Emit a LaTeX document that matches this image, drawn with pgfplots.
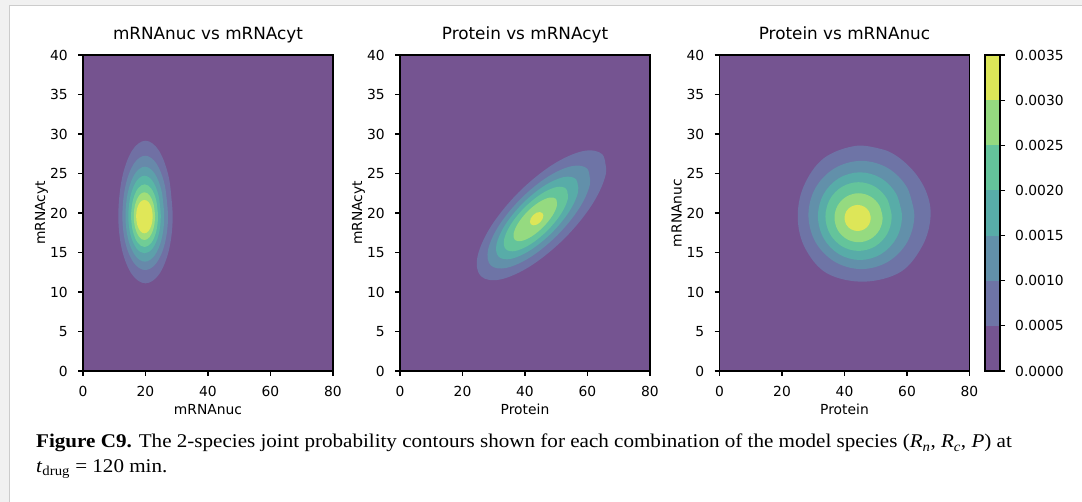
\documentclass[border=0pt]{standalone}
\usepackage{fontspec}
\usepackage{pgfplots}
\pgfplotsset{compat=1.18}
\setmainfont{DejaVu Sans}
\newfontfamily\capfont[FakeStretch=1.085]{Liberation Serif}

\definecolor{pagebg}{RGB}{241,241,241}
\definecolor{pageborder}{RGB}{204,204,204}
% 7-interval palette (viridis, alpha 0.75 on white)
\definecolor{c0}{RGB}{117,84,145}
\definecolor{c1}{RGB}{110,116,166}
\definecolor{c2}{RGB}{98,144,170}
\definecolor{c3}{RGB}{88,172,168}
\definecolor{c4}{RGB}{100,196,155}
\definecolor{c5}{RGB}{149,218,128}
\definecolor{c6}{RGB}{221,230,88}
% 8-interval palette
\definecolor{d0}{RGB}{117,83,143}
\definecolor{d1}{RGB}{112,112,164}
\definecolor{d2}{RGB}{103,137,170}
\definecolor{d3}{RGB}{93,160,170}
\definecolor{d4}{RGB}{89,183,165}
\definecolor{d5}{RGB}{112,205,150}
\definecolor{d6}{RGB}{161,222,121}
\definecolor{d7}{RGB}{224,231,88}

\pgfplotsset{
  cstyle/.style={
    scale only axis, width=250bp, height=316bp,
    xmin=0,xmax=80,ymin=0,ymax=40,
    xtick={0,20,40,60,80}, ytick={0,5,...,40},
    tick align=outside, tick pos=left, major tick length=5bp,
    axis line style={line width=1.1bp, black},
    every tick/.style={line width=1.1bp, black},
    axis on top,
    /pgf/number format/assume math mode=true,
    tick label style={font=\fontsize{13.9}{16}\selectfont},
    xticklabel style={anchor=north, inner sep=0pt, yshift=-10bp},
    yticklabel style={anchor=east, inner sep=0pt, xshift=-10bp},
    label style={font=\fontsize{13.9}{16}\selectfont},
    title style={font=\fontsize{16.9}{19}\selectfont, at={(axis description cs:0.5,1.030)}, anchor=base, inner sep=0pt},
    xlabel style={at={(axis description cs:0.5,-0.139)}, anchor=base, inner sep=0pt},
    ylabel style={at={(axis description cs:-0.152,0.5)}, anchor=base, inner sep=0pt},
  },
  band/.style={fill=#1, draw=none, smooth, tension=0.6},
}

\begin{document}
\begin{tikzpicture}
\path[use as bounding box] (0,0) rectangle (1082bp,502bp);
\fill[pagebg] (0,0) rectangle (1082bp,502bp);
\filldraw[fill=white, draw=pageborder, line width=1.6bp] (9.5bp,-20bp) rectangle (1110bp,496.5bp);

% ---------- Plot 1 ----------
\begin{axis}[cstyle, at={(83bp,131bp)}, anchor=south west,
  axis background/.style={fill=d0},
  title={mRNAnuc vs mRNAcyt}, xlabel={mRNAnuc}, ylabel={mRNAcyt}]
\addplot[band=d1] coordinates {(28.7,19.6) (27.53,24.38) (24.35,27.87) (20,29.15) (15.65,27.87) (12.47,24.38) (11.3,19.6) (12.47,15.35) (15.65,12.24) (20,11.1) (24.35,12.24) (27.53,15.35) (28.7,19.6) (27.53,24.38)};
\addplot[band=d2] coordinates {(27.2,19.6) (26.22,23.43) (23.55,26.23) (19.9,27.25) (16.25,26.23) (13.58,23.43) (12.6,19.6) (13.58,16.19) (16.25,13.69) (19.9,12.78) (23.55,13.69) (26.22,16.19) (27.2,19.6) (26.22,23.43)};
\addplot[band=d3] coordinates {(26.0,19.6) (25.17,22.73) (22.9,25.02) (19.8,25.86) (16.7,25.02) (14.43,22.73) (13.6,19.6) (14.43,16.72) (16.7,14.61) (19.8,13.84) (22.9,14.61) (25.17,16.72) (26.0,19.6) (25.17,22.73)};
\addplot[band=d4] coordinates {(24.9,19.6) (24.2,22.16) (22.3,24.03) (19.7,24.72) (17.1,24.03) (15.2,22.16) (14.5,19.6) (15.2,17.25) (17.1,15.53) (19.7,14.9) (22.3,15.53) (24.2,17.25) (24.9,19.6) (24.2,22.16)};
\addplot[band=d5] coordinates {(24.0,19.6) (23.42,21.62) (21.85,23.09) (19.7,23.63) (17.55,23.09) (15.98,21.62) (15.4,19.6) (15.98,17.65) (17.55,16.22) (19.7,15.7) (21.85,16.22) (23.42,17.65) (24.0,19.6) (23.42,21.62)};
\addplot[band=d6] coordinates {(23.05,19.6) (22.59,21.11) (21.35,22.22) (19.65,22.62) (17.95,22.22) (16.71,21.11) (16.25,19.6) (16.71,18.09) (17.95,16.98) (19.65,16.58) (21.35,16.98) (22.59,18.09) (23.05,19.6) (22.59,21.11)};
\addplot[band=d7] coordinates {(22.3,19.6) (21.94,20.63) (20.98,21.38) (19.65,21.65) (18.32,21.38) (17.36,20.63) (17.0,19.6) (17.36,18.51) (18.32,17.72) (19.65,17.43) (20.98,17.72) (21.94,18.51) (22.3,19.6) (21.94,20.63)};
\end{axis}

% ---------- Plot 2 ----------
\begin{axis}[cstyle, at={(400bp,131bp)}, anchor=south west,
  axis background/.style={fill=c0},
  title={Protein vs mRNAcyt}, xlabel={Protein}, ylabel={mRNAcyt}]
\addplot[band=c1] coordinates {(64.79,27.41) (65.86,24.93) (61.43,21.04) (52.68,16.80) (41.97,13.34) (32.16,11.59) (25.87,12.01) (24.80,14.49) (29.23,18.38) (37.98,22.62) (48.69,26.08) (58.50,27.83) (64.79,27.41) (65.86,24.93)};
\addplot[band=c2] coordinates {(59.93,25.60) (60.78,23.63) (57.27,20.55) (50.32,17.18) (41.81,14.43) (34.02,13.05) (29.03,13.38) (28.18,15.35) (31.69,18.43) (38.64,21.80) (47.15,24.55) (54.94,25.93) (59.93,25.60) (60.78,23.63)};
\addplot[band=c3] coordinates {(56.33,24.27) (57.01,22.68) (54.20,20.22) (48.63,17.52) (41.82,15.32) (35.57,14.20) (31.57,14.47) (30.89,16.06) (33.70,18.52) (39.27,21.22) (46.08,23.42) (52.33,24.54) (56.33,24.27) (57.01,22.68)};
\addplot[band=c4] coordinates {(53.18,23.06) (53.72,21.82) (51.52,19.89) (47.19,17.79) (41.86,16.07) (36.98,15.20) (33.86,15.42) (33.32,16.66) (35.52,18.59) (39.85,20.69) (45.18,22.41) (50.06,23.28) (53.18,23.06) (53.72,21.82)};
\addplot[band=c5] coordinates {(49.87,21.80) (50.23,20.96) (48.75,19.65) (45.80,18.22) (42.19,17.05) (38.87,16.46) (36.75,16.60) (36.39,17.44) (37.87,18.75) (40.82,20.19) (44.43,21.35) (47.75,21.94) (49.87,21.80) (50.23,20.96)};
\addplot[band=c6] coordinates {(45.54,20.00) (45.87,19.68) (45.62,19.25) (44.86,18.83) (43.80,18.53) (42.73,18.44) (41.92,18.56) (41.59,18.88) (41.84,19.31) (42.60,19.73) (43.66,20.03) (44.73,20.12) (45.54,20.00) (45.87,19.68)};
\end{axis}

% ---------- Plot 3 ----------
\begin{axis}[cstyle, at={(719.5bp,131bp)}, anchor=south west,
  axis background/.style={fill=c0},
  title={Protein vs mRNAnuc}, xlabel={Protein}, ylabel={mRNAnuc}]
\addplot[band=c1] coordinates {(44.09,28.52) (53.76,27.85) (61.29,25.65) (66.13,22.70) (67.53,19.54) (65.05,15.95) (58.06,12.57) (46.24,11.31) (34.41,12.36) (27.42,15.53) (25.05,19.32) (26.88,23.33) (33.33,26.92) (44.09,28.52) (53.76,27.85)};
\addplot[band=c2] coordinates {(62.35,19.75) (60.08,23.18) (53.88,25.68) (45.4,26.6) (36.92,25.68) (30.72,23.18) (28.45,19.75) (30.72,16.32) (36.92,13.82) (45.4,12.9) (53.88,13.82) (60.08,16.32) (62.35,19.75) (60.08,23.18)};
\addplot[band=c3] coordinates {(58.4,19.6) (56.6,22.38) (51.68,24.41) (44.95,25.15) (38.22,24.41) (33.3,22.38) (31.5,19.6) (33.3,16.82) (38.22,14.79) (44.95,14.05) (51.68,14.79) (56.6,16.82) (58.4,19.6) (56.6,22.38)};
\addplot[band=c4] coordinates {(55.1,19.55) (53.68,21.73) (49.8,23.32) (44.5,23.9) (39.2,23.32) (35.32,21.73) (33.9,19.55) (35.32,17.37) (39.2,15.78) (44.5,15.2) (49.8,15.78) (53.68,17.37) (55.1,19.55) (53.68,21.73)};
\addplot[band=c5] coordinates {(52.2,19.4) (51.17,20.95) (48.35,22.08) (44.5,22.5) (40.65,22.08) (37.83,20.95) (36.8,19.4) (37.83,17.85) (40.65,16.72) (44.5,16.3) (48.35,16.72) (51.17,17.85) (52.2,19.4) (51.17,20.95)};
\addplot[band=c6] coordinates {(48.4,19.37) (47.84,20.2) (46.3,20.8) (44.2,21.02) (42.1,20.8) (40.56,20.2) (40.0,19.37) (40.56,18.54) (42.1,17.94) (44.2,17.72) (46.3,17.94) (47.84,18.54) (48.4,19.37) (47.84,20.2)};
\end{axis}

% ---------- Colorbar ----------
\begin{axis}[scale only axis, width=15bp, height=316bp, at={(985bp,131bp)}, anchor=south west,
  xmin=0, xmax=1, ymin=0, ymax=0.0035, xtick=\empty,
  ytick={0,0.0005,0.001,0.0015,0.002,0.0025,0.003,0.0035},
  yticklabels={0.0000,0.0005,0.0010,0.0015,0.0020,0.0025,0.0030,0.0035},
  scaled y ticks=false, tick align=outside, ytick pos=right, yticklabel pos=right,
  major tick length=5bp,
  axis line style={line width=1.1bp, black},
  every tick/.style={line width=1.1bp, black},
  axis on top,
  tick label style={font=\fontsize{13.9}{16}\selectfont},
  yticklabel style={anchor=west, inner sep=0pt, xshift=10bp}]
\addplot[fill=c0, draw=none] coordinates {(0,0) (1,0) (1,0.0005) (0,0.0005)} -- cycle;
\addplot[fill=c1, draw=none] coordinates {(0,0.0005) (1,0.0005) (1,0.001) (0,0.001)} -- cycle;
\addplot[fill=c2, draw=none] coordinates {(0,0.001) (1,0.001) (1,0.0015) (0,0.0015)} -- cycle;
\addplot[fill=c3, draw=none] coordinates {(0,0.0015) (1,0.0015) (1,0.002) (0,0.002)} -- cycle;
\addplot[fill=c4, draw=none] coordinates {(0,0.002) (1,0.002) (1,0.0025) (0,0.0025)} -- cycle;
\addplot[fill=c5, draw=none] coordinates {(0,0.0025) (1,0.0025) (1,0.003) (0,0.003)} -- cycle;
\addplot[fill=c6, draw=none] coordinates {(0,0.003) (1,0.003) (1,0.0035) (0,0.0035)} -- cycle;
\end{axis}

% ---------- Caption ----------
\node[anchor=base west, inner sep=0pt, font=\capfont\fontsize{19.5}{22}\selectfont] at (36bp,54bp)
  {\textbf{Figure C9.} The 2-species joint probability contours shown for each combination of the model species (\textit{R}\textsubscript{\textit{n}}, \textit{R}\textsubscript{\textit{c}}, \textit{P}) at};
\node[anchor=base west, inner sep=0pt, font=\capfont\fontsize{19.5}{22}\selectfont] at (36bp,30bp)
  {\textit{t}\textsubscript{drug} = 120 min.};
\end{tikzpicture}
\end{document}
